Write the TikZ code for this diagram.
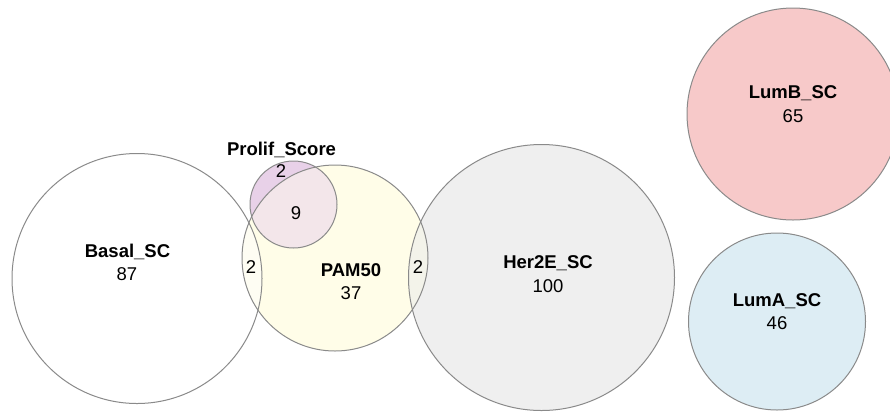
\documentclass[tikz,border=0pt]{standalone}
\usepackage{fontspec}
\setmainfont{Liberation Sans}
\definecolor{edge}{HTML}{8A8A8A}
\definecolor{pamc}{HTML}{FFFDE8}
\definecolor{prolc}{HTML}{E8D1E8}
\definecolor{prolpamc}{HTML}{F3E6EA}
\definecolor{basalpamc}{HTML}{FEFDF3}
\definecolor{herc}{HTML}{EFEFEF}
\definecolor{pamherc}{HTML}{F3F3EA}
\definecolor{lumbc}{HTML}{F7C9C9}
\definecolor{lumac}{HTML}{DDEDF4}
\tikzset{
  setedge/.style={draw=edge, line width=1bp},
  setname/.style={font=\fontsize{18.5bp}{20bp}\selectfont\bfseries, inner sep=0pt, anchor=center},
  setnum/.style={font=\fontsize{18.5bp}{20bp}\selectfont, inner sep=0pt, anchor=center}
}
\begin{document}
\begin{tikzpicture}[x=1bp,y=-1bp]
\useasboundingbox (0,0) rectangle (890,411);
\begin{scope}
\clip (0,0) rectangle (890,411);
% fills
\fill[white] (137,278.5) circle (125);
\fill[prolc] (293.5,204.5) circle (43.5);
\fill[pamc] (335,258) circle (93);
\begin{scope}
\clip (293.5,204.5) circle (43.5);
\fill[prolpamc] (335,258) circle (93);
\end{scope}
\begin{scope}
\clip (137,278.5) circle (125);
\fill[basalpamc] (335,258) circle (93);
\end{scope}
\fill[herc] (541.5,277.5) circle (133);
\begin{scope}
\clip (335,258) circle (93);
\fill[pamherc] (541.5,277.5) circle (133);
\end{scope}
\fill[lumbc] (793,114) circle (106);
\fill[lumac] (777,321.5) circle (88.5);
% borders
\draw[setedge] (137,278.5) circle (125);
\draw[setedge] (293.5,204.5) circle (43.5);
\draw[setedge] (335,258) circle (93);
\draw[setedge] (541.5,277.5) circle (133);
\draw[setedge] (793,114) circle (106);
\draw[setedge] (777,321.5) circle (88.5);
\end{scope}
% labels
\node[setname] (prolifname) at (281.5,150) {Prolif\_Score};
\node[setnum] (prolifonly) at (281,171.5) {2};
\node[setnum] (prolifpam) at (296,213.5) {9};
\node[setname] (basalname) at (127.5,252) {Basal\_SC};
\node[setnum] (basalnum) at (127,274) {87};
\node[setnum] (basalpam) at (251,267) {2};
\node[setname] (pamname) at (351,270) {PAM50};
\node[setnum] (pamnum) at (351,293) {37};
\node[setnum] (pamher) at (418,267) {2};
\node[setname] (hername) at (548,263) {Her2E\_SC};
\node[setnum] (hernum) at (548,286) {100};
\node[setname] (lumbname) at (793,93) {LumB\_SC};
\node[setnum] (lumbnum) at (793,116) {65};
\node[setname] (lumaname) at (777,301) {LumA\_SC};
\node[setnum] (lumanum) at (777,323) {46};
\end{tikzpicture}
\end{document}
